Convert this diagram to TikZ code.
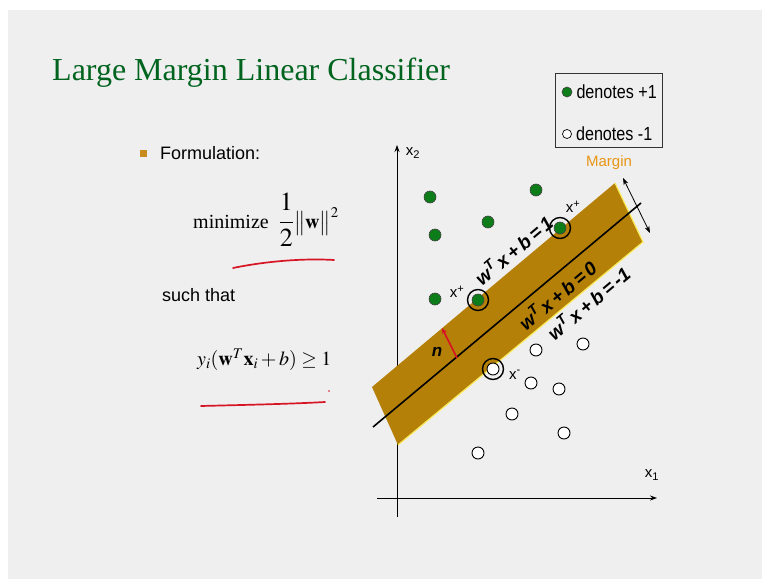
\documentclass[tikz,border=0pt]{standalone}
\usepackage{amsmath}
\usepackage{mathptmx}
\usepackage{fontspec}
\setmainfont{Liberation Serif}
\setsansfont{Liberation Sans}
\usetikzlibrary{positioning,arrows.meta}

\definecolor{slidebg}{RGB}{239,239,239}
\definecolor{titlegreen}{RGB}{0,100,30}
\definecolor{bandbrown}{RGB}{181,128,8}
\definecolor{bandedge}{RGB}{250,235,90}
\definecolor{margorange}{RGB}{232,150,20}
\definecolor{posgreen}{RGB}{12,125,25}
\definecolor{inkred}{RGB}{215,20,35}
\definecolor{bulletbrown}{RGB}{200,140,30}

\begin{document}
\begin{tikzpicture}[
  x=1pt, y=-1pt,
  font=\sffamily,
  >={Stealth[length=7pt,width=5pt]},
  posdot/.style ={circle, fill=posgreen, draw=black!75, line width=0.6pt,
                  minimum size=12pt, inner sep=0pt},
  negdot/.style ={circle, fill=white, draw=black, line width=0.9pt,
                  minimum size=12pt, inner sep=0pt},
  ring/.style   ={circle, draw=black, line width=1.4pt,
                  minimum size=21pt, inner sep=0pt},
  eqlabel/.style={font=\sffamily\bfseries\itshape\fontsize{19}{19}\selectfont,
                  rotate=40, inner sep=0pt},
  svlabel/.style={font=\sffamily\fontsize{15}{15}\selectfont, inner sep=0pt},
  axlabel/.style={font=\sffamily\fontsize{15}{15}\selectfont, inner sep=0pt},
  sans/.style   ={font=\sffamily\fontsize{18}{18}\selectfont, anchor=west, inner sep=0pt},
  serif/.style  ={font=\rmfamily\fontsize{20}{20}\selectfont, anchor=west, inner sep=0pt},
  legtext/.style={font=\sffamily\fontsize{19}{19}\selectfont, anchor=west, inner sep=0pt},
  underline/.style={draw=inkred, line width=1.7pt, line cap=round},
]

% slide background
\useasboundingbox (0,0) rectangle (762,578);
\fill[white] (0,0) rectangle (762,578);
\fill[slidebg] (8,10) rectangle (775,590);

% title
\node[anchor=base west, inner sep=0pt, text=titlegreen,
      font=\rmfamily\fontsize{32}{32}\selectfont]
  (title) at (52,80) {Large Margin Linear Classifier};

% formulation
\node[fill=bulletbrown, minimum size=7pt, inner sep=0pt] (bullet) at (143,153) {};
\node[sans] (formul) at (160,153) {Formulation:};
\node[serif] (minimize) at (193,220)
  {minimize\enspace{\fontsize{26}{26}\selectfont$\dfrac{1}{2}$}$\bigl\|\mathbf{w}\bigr\|^2$};
\node[sans] (such) at (162,295) {such that};
\node[serif] (constr) at (197,360) {$y_i(\mathbf{w}^T\mathbf{x}_i+b)\geq 1$};

\draw[underline] (233,268) .. controls (262,262) and (300,258) .. (334,260);
\draw[underline] (201,406) .. controls (240,405) and (290,404) .. (325,402);
\fill[inkred] (329,391) circle (0.9pt);

% axes
\coordinate (ybot) at (397,517);
\coordinate (ytop) at (397,145);
\coordinate (xleft) at (377,498);
\coordinate (xright) at (657,498);
\draw[->, line width=0.7pt] (ybot) -- (ytop);
\draw[->, line width=1pt] (xleft) -- (xright);
\node[axlabel] (xtwo) at (413,153) {x\textsubscript{2}};
\node[axlabel] (xone) at (652,475) {x\textsubscript{1}};

% margin band
\coordinate (bandA) at (372,387);
\coordinate (bandB) at (615,183);
\coordinate (bandC) at (643,242);
\coordinate (bandD) at (398,445);
\fill[bandbrown] (bandA) -- (bandB) -- (bandC) -- (bandD) -- cycle;
\draw[bandedge, line width=1.2pt] (bandB) -- (bandC) -- (bandD);

% hyperplane
\coordinate (hypL) at (373,427);
\coordinate (hypR) at (641,203);
\draw[line width=1.6pt] (hypL) -- (hypR);

% margin arrow
\coordinate (margA) at (623,178);
\coordinate (margB) at (650,233);
\draw[<->, line width=0.8pt] (margA) -- (margB);
\node[font=\sffamily\fontsize{15}{15}\selectfont, text=margorange, inner sep=0pt]
  (marglabel) at (609,163) {Margin};

% normal vector
\coordinate (nfoot) at (457,358);
\coordinate (ntip) at (442,328);
\draw[->, draw=inkred, line width=1.6pt, >={Stealth[length=6pt,width=5pt]}] (nfoot) -- (ntip);
\node[font=\sffamily\bfseries\itshape\fontsize{17}{17}\selectfont, inner sep=0pt]
  (nlabel) at (437,352) {n};

% equations
\node[eqlabel] (eqone)  at (513,250) {w\textsuperscript{T}\,x\,+\,b\,=\,1};
\node[eqlabel] (eqzero) at (557,295) {w\textsuperscript{T}\,x\,+\,b\,=\,0};
\node[eqlabel] (eqneg)  at (588,303) {w\textsuperscript{T}\,x\,+\,b\,=\,-1};

% positive points
\node[posdot] (pa) at (430,197) {};
\node[posdot] (pb) at (536,190) {};
\node[posdot] (pc) at (488,222) {};
\node[posdot] (pd) at (435,235) {};
\node[posdot] (pe) at (435,299) {};
\node[posdot] (psvA) at (478,300) {};
\node[posdot] (psvB) at (560,228) {};
\node[ring] (ringA) at (psvA) {};
\node[ring] (ringB) at (psvB) {};
\node[svlabel] (xpA) at (457,292) {x\textsuperscript{+}};
\node[svlabel] (xpB) at (573,207) {x\textsuperscript{+}};

% negative points
\node[negdot] (na) at (536,350) {};
\node[negdot] (nb) at (583,344) {};
\node[negdot] (nc) at (531,383) {};
\node[negdot] (nd) at (559,389) {};
\node[negdot] (ne) at (512,414) {};
\node[negdot] (nf) at (564,433) {};
\node[negdot] (ng) at (478,453) {};
\node[negdot] (nsv) at (493,369) {};
\node[ring] (ringC) at (nsv) {};
\node[svlabel] (xm) at (515,375) {x\textsuperscript{-}};

% legend
\node[draw=black!80, line width=0.8pt, minimum width=107pt, minimum height=74pt,
      inner sep=0pt] (legend) at (608.5,110) {};
\node[posdot, minimum size=10pt] (legpos) at (567,92) {};
\node[negdot, minimum size=9pt, line width=0.7pt] (legneg) at (567,134) {};
\node[legtext, right=4pt of legpos] (legposlab) {\scalebox{0.85}[1]{denotes +1}};
\node[legtext, right=4pt of legneg] (legneglab) {\scalebox{0.85}[1]{denotes -1}};

\end{tikzpicture}
\end{document}
